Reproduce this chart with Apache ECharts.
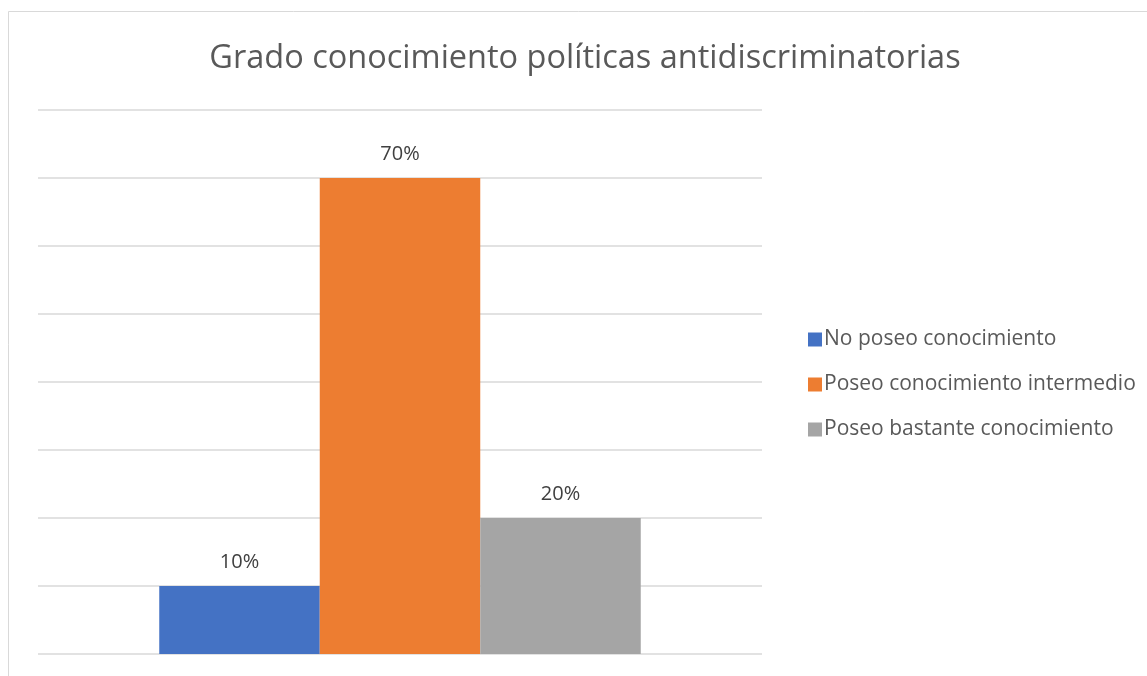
<!DOCTYPE html>
<html>
<head>
<meta charset="utf-8">
<script src="https://cdn.jsdelivr.net/npm/echarts@6/dist/echarts.min.js"></script>
<style>
  html, body { margin: 0; padding: 0; background: #ffffff; }
  #chart { width: 1147px; height: 676px; }
</style>
</head>
<body>
<div id="chart"></div>
<script>
// Survey answers: degree of knowledge about anti-discrimination policies
const chartTitle = 'Grado conocimiento políticas antidiscriminatorias';
const categories = [''];
const seriesNames = ['No poseo conocimiento', 'Poseo conocimiento intermedio', 'Poseo bastante conocimiento'];
const seriesValues = [10, 70, 20];
const seriesColors = ['#4472c4', '#ed7d31', '#a5a5a5'];

const FONT = 'Open Sans';

const chart = echarts.init(document.getElementById('chart'), null, { renderer: 'canvas' });

const series = seriesNames.map((name, i) => ({
  name: name,
  type: 'bar',
  data: [seriesValues[i]],
  barWidth: 160.5,
  barGap: '0%',
  itemStyle: { color: seriesColors[i] },
  label: {
    show: true,
    position: 'top',
    distance: 14,
    formatter: p => p.value + '%',
    fontFamily: FONT,
    fontSize: 20,
    color: '#404040'
  }
}));

chart.setOption({
  animation: false,
  backgroundColor: '#ffffff',
  graphic: [{
    type: 'rect',
    shape: { x: 8.5, y: 11.5, width: 1200, height: 700 },
    style: { fill: 'none', stroke: '#d9d9d9', lineWidth: 1 },
    silent: true
  }],
  title: {
    text: chartTitle,
    left: 580,
    textAlign: 'center',
    top: 37,
    textStyle: { fontFamily: FONT, fontSize: 32.5, fontWeight: 'normal', color: '#595959' }
  },
  legend: {
    orient: 'vertical',
    left: 803,
    top: 324,
    itemWidth: 14,
    itemHeight: 14,
    itemGap: 24,
    icon: 'rect',
    textStyle: { fontFamily: FONT, fontSize: 21, color: '#595959', padding: [0, 0, 0, -3] },
    data: seriesNames
  },
  grid: { left: 38, right: 385, top: 110, bottom: 22, containLabel: false },
  xAxis: {
    type: 'category',
    data: categories,
    axisLine: { show: false },
    axisTick: { show: false },
    axisLabel: { show: false }
  },
  yAxis: {
    type: 'value',
    min: 0,
    max: 80,
    interval: 10,
    axisLine: { show: false },
    axisTick: { show: false },
    axisLabel: { show: false },
    splitLine: { lineStyle: { color: '#d9d9d9', width: 1.5 } }
  },
  series: series
});
</script>
</body>
</html>
